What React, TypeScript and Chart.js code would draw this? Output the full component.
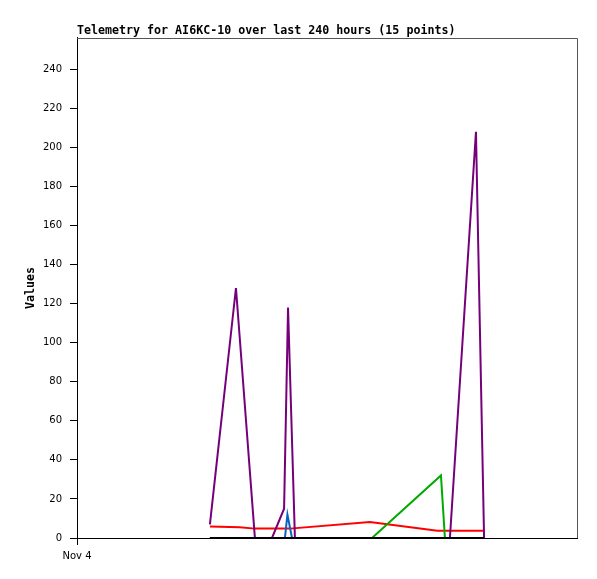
import { useEffect, useRef } from "react";
import { Chart, registerables } from "chart.js";

Chart.register(...registerables);

const TITLE = "Telemetry for AI6KC-10 over last 240 hours (15 points)";
const Y_LABEL = "Values";
const X_TICK_LABEL = "Nov 4";
const Y_TICKS = [0, 20, 40, 60, 80, 100, 120, 140, 160, 180, 200, 220, 240];

// hours since Nov 4 00:00
const blackHours = [6.38, 19.54];
const blackValues = [0, 0];

const redHours = [6.38, 7.8, 8.54, 10.22, 14.06, 17.3, 19.54];
const redValues = [5.9, 5.5, 4.8, 4.8, 8.2, 3.7, 3.7];

const blueHours = [6.38, 9.98, 10.1, 10.32, 19.54];
const blueValues = [0, 0, 12, 0, 0];

const greenHours = [6.38, 14.16, 17.47, 17.66, 19.54];
const greenValues = [0, 0, 32, 0, 0];

const purpleHours = [6.38, 7.63, 8.54, 9.36, 9.94, 10.13, 10.46, 17.9, 19.15, 19.54];
const purpleValues = [7, 128, 0, 0, 15, 118, 0, 0, 208, 0];

const pts = (xs: number[], ys: number[]) => xs.map((x, i) => ({ x, y: ys[i] }));

const MONO = "DejaVu Sans Mono";
const SANS = "DejaVu Sans";

export default function App() {
  const ref = useRef<HTMLCanvasElement>(null);

  useEffect(() => {
    document.body.style.margin = "0";
    const frame = {
      id: "frame",
      afterDatasetsDraw(chart: any) {
        const { ctx, chartArea } = chart;
        const { left, top, right } = chartArea;
        ctx.save();
        ctx.strokeStyle = "#555555";
        ctx.lineWidth = 1;
        ctx.beginPath();
        ctx.moveTo(Math.round(left), Math.round(top) + 0.5);
        ctx.lineTo(Math.round(right) + 0.5, Math.round(top) + 0.5);
        ctx.lineTo(Math.round(right) + 0.5, Math.round(chartArea.bottom));
        ctx.stroke();
        ctx.restore();
      },
    };

    const ds = (label: string, xs: number[], ys: number[], color: string) => ({
      label,
      data: pts(xs, ys),
      borderColor: color,
      backgroundColor: color,
      borderWidth: 2,
      pointRadius: 0,
      tension: 0,
      fill: false,
    });

    const chart = new Chart(ref.current!, {
      type: "line",
      data: {
        datasets: [
          ds("black", blackHours, blackValues, "#000000"),
          ds("purple", purpleHours, purpleValues, "#75007a"),
          ds("green", greenHours, greenValues, "#00aa00"),
          ds("blue", blueHours, blueValues, "#0a62c4"),
          ds("red", redHours, redValues, "#ff0000"),
        ],
      },
      options: {
        responsive: false,
        animation: false,
        layout: { padding: { top: 24, right: 20, left: 0, bottom: 0 } },
        plugins: {
          legend: { display: false },
          tooltip: { enabled: false },
          title: {
            display: true,
            text: TITLE,
            align: "start",
            fullSize: false,
            color: "#000",
            font: { family: MONO, weight: "bold", size: 11.65, lineHeight: 1.2 },
            padding: { top: 0, bottom: 0 },
          },
        },
        scales: {
          x: {
            type: "linear",
            min: 0,
            max: 24,
            afterBuildTicks: (s: any) => {
              s.ticks = [{ value: 0 }];
            },
            afterFit: (s: any) => {
              s.height = 41;
            },
            ticks: {
              callback: (v: any) => (v === 0 ? X_TICK_LABEL : ""),
              color: "#000",
              font: { family: SANS, size: 10 },
              padding: 5,
              maxRotation: 0,
              autoSkip: false,
            },
            grid: { drawOnChartArea: false, drawTicks: true, tickLength: 7, color: "#000" },
            border: { color: "#000", width: 1 },
          },
          y: {
            min: 0,
            max: 256,
            afterBuildTicks: (s: any) => {
              s.ticks = Y_TICKS.map((v) => ({ value: v }));
            },
            afterFit: (s: any) => {
              s.width = 77;
            },
            ticks: {
              color: "#000",
              font: { family: SANS, size: 10 },
              padding: 8,
              autoSkip: false,
            },
            grid: { drawOnChartArea: false, drawTicks: true, tickLength: 7, color: "#000" },
            border: { color: "#000", width: 1 },
            title: {
              display: true,
              text: Y_LABEL,
              color: "#000",
              font: { family: MONO, weight: "bold", size: 11.65 },
              padding: { top: 24, bottom: 0 },
            },
          },
        },
      },
      plugins: [frame],
    } as any);
    return () => chart.destroy();
  }, []);

  return <canvas ref={ref} width={597} height={579} style={{ display: "block" }} />;
}
